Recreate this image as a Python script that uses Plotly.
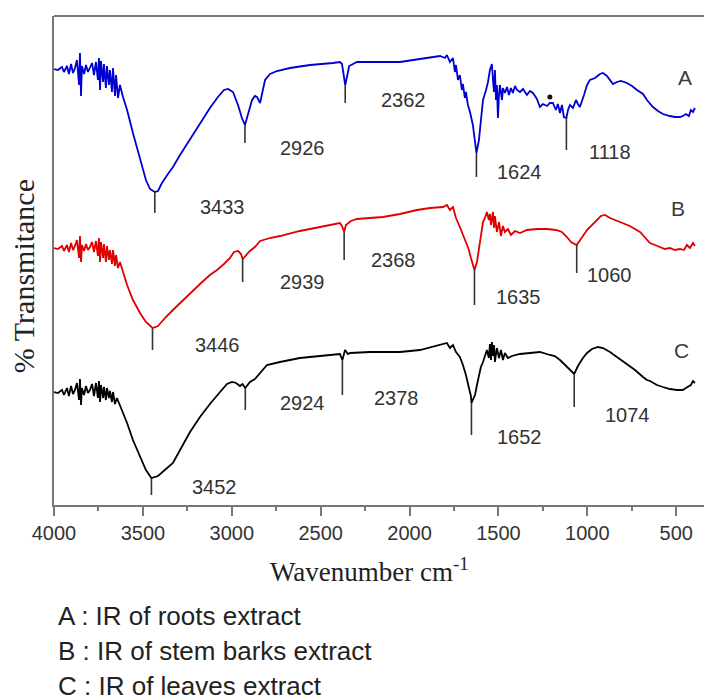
import plotly.graph_objects as go

# ---------------- data (wavenumber in cm-1, transmittance in arbitrary offset units) -------------
wn_A = [4000, 3978, 3955, 3944, 3927, 3916, 3904, 3893, 3882, 3871, 3859, 3854, 3848, 3843, 3831,
        3820, 3809, 3798, 3786, 3775, 3764, 3753, 3747, 3741, 3736, 3724, 3719, 3708, 3702, 3691,
        3685, 3674, 3668, 3657, 3651, 3640, 3629, 3612, 3589, 3556, 3516, 3483, 3460, 3433, 3415,
        3393, 3359, 3331, 3291, 3235, 3179, 3123, 3078, 3044, 3021, 2993, 2965, 2943, 2926, 2909,
        2886, 2870, 2858, 2841, 2830, 2813, 2785, 2746, 2673, 2560, 2431, 2392, 2380, 2370, 2362,
        2351, 2340, 2296, 2167, 2054, 1942, 1869, 1829, 1801, 1790, 1773, 1756, 1745, 1739, 1728,
        1717, 1706, 1700, 1689, 1683, 1672, 1660, 1644, 1632, 1624, 1610, 1599, 1587, 1570, 1559,
        1548, 1537, 1531, 1525, 1520, 1514, 1509, 1503, 1497, 1492, 1480, 1475, 1464, 1452, 1441,
        1430, 1419, 1407, 1396, 1379, 1362, 1340, 1323, 1306, 1284, 1267, 1250, 1227, 1211, 1194,
        1177, 1166, 1154, 1143, 1132, 1118, 1109, 1098, 1081, 1064, 1053, 1042, 1019, 1002, 986,
        957, 929, 912, 890, 873, 856, 834, 811, 777, 749, 721, 687, 665, 648, 631, 603, 575, 536,
        508, 479, 463, 446, 429, 418, 406, 395]
T_A = [436, 435, 438, 433, 439, 431, 441, 432, 437, 445, 420, 452, 409, 439, 431,
       440, 433, 437, 442, 430, 443, 425, 447, 415, 444, 423, 441, 417, 439, 420,
       435, 413, 437, 409, 430, 407, 420, 408, 395, 372, 345, 325, 316, 313, 314,
       322, 331, 338, 350, 366, 382, 397, 408, 415, 416, 413, 400, 387, 380, 390,
       405, 409, 408, 402, 410, 425, 431, 434, 437, 440, 442, 443, 441, 429, 420,
       429, 439, 443, 443, 443, 446, 448, 449, 447, 450, 443, 447, 433, 440, 425,
       430, 415, 421, 407, 413, 400, 393, 380, 365, 352, 365, 387, 405, 415, 423,
       435, 441, 425, 413, 435, 405, 420, 387, 410, 420, 405, 417, 412, 418, 410,
       417, 412, 419, 415, 413, 416, 410, 414, 412, 406, 398, 401, 399, 402, 402,
       395, 401, 392, 400, 388, 387, 395, 400, 397, 405, 401, 398, 410, 420, 425,
       427, 431, 432, 429, 425, 421, 423, 424, 422, 419, 415, 411, 405, 401, 398, 394, 391, 389,
       388, 388, 389, 391, 389, 395, 393, 397]

wn_B = [4000, 3978, 3955, 3944, 3927, 3916, 3904, 3893, 3882, 3871, 3859, 3854, 3848, 3843, 3831,
        3820, 3809, 3798, 3786, 3775, 3764, 3753, 3747, 3741, 3736, 3724, 3719, 3708, 3702, 3691,
        3685, 3674, 3668, 3657, 3651, 3640, 3629, 3612, 3589, 3556, 3516, 3483, 3460, 3446, 3415,
        3376, 3331, 3291, 3235, 3179, 3123, 3083, 3044, 3010, 2988, 2965, 2948, 2939, 2898, 2870,
        2841, 2785, 2729, 2617, 2504, 2431, 2392, 2380, 2368, 2358, 2330, 2296, 2150, 2054, 1958,
        1885, 1812, 1790, 1773, 1756, 1739, 1717, 1700, 1683, 1666, 1655, 1644, 1635, 1621, 1610,
        1599, 1587, 1576, 1565, 1554, 1548, 1542, 1531, 1525, 1520, 1509, 1497, 1486, 1475, 1464,
        1447, 1430, 1407, 1379, 1340, 1284, 1227, 1177, 1143, 1115, 1092, 1060, 1047, 1025, 1002,
        974, 946, 924, 901, 873, 817, 761, 704, 676, 648, 620, 592, 564, 536, 508, 479, 457, 440,
        423, 406, 395]
T_B = [257, 256, 259, 254, 260, 253, 262, 255, 259, 265, 247, 269, 243, 260, 254,
       261, 255, 258, 263, 253, 264, 249, 267, 243, 263, 247, 261, 243, 259, 245,
       255, 241, 255, 239, 250, 237, 243, 233, 220, 205, 192, 183, 179, 177, 179,
       187, 195, 202, 212, 221, 230, 235, 241, 247, 253, 254, 251, 246, 254, 258,
       264, 267, 269, 274, 278, 281, 282, 279, 273, 280, 284, 286, 288, 291, 295,
       297, 298, 300, 295, 298, 287, 278, 270, 263, 255, 247, 240, 235, 243, 257,
       273, 283, 287, 293, 285, 291, 280, 293, 277, 289, 273, 283, 269, 279, 273,
       276, 270, 274, 272, 275, 276, 276, 275, 273, 268, 263, 260, 263, 269, 275,
       280, 285, 289, 290, 287, 283, 279, 273, 267, 262, 260, 258, 256, 257, 255, 256, 255, 260,
       257, 262, 259]

wn_C = [4000, 3978, 3955, 3944, 3927, 3916, 3904, 3893, 3882, 3871, 3859, 3854, 3848, 3843, 3831,
        3820, 3809, 3798, 3786, 3775, 3764, 3753, 3747, 3741, 3736, 3724, 3719, 3708, 3702, 3691,
        3685, 3674, 3668, 3657, 3646, 3629, 3612, 3589, 3556, 3516, 3483, 3460, 3452, 3415, 3376,
        3331, 3291, 3235, 3179, 3123, 3066, 3027, 2999, 2976, 2954, 2940, 2924, 2905, 2898, 2870,
        2841, 2802, 2729, 2617, 2504, 2420, 2392, 2378, 2363, 2347, 2335, 2223, 2054, 1942, 1829,
        1790, 1773, 1756, 1739, 1717, 1700, 1683, 1666, 1655, 1652, 1632, 1621, 1610, 1599, 1587,
        1576, 1565, 1554, 1548, 1542, 1537, 1531, 1525, 1520, 1509, 1497, 1486, 1475, 1464, 1447,
        1424, 1379, 1323, 1267, 1211, 1183, 1154, 1126, 1098, 1074, 1053, 1025, 1002, 974, 941,
        912, 873, 834, 789, 732, 687, 665, 648, 609, 575, 536, 496, 463, 446, 429, 418, 406, 395]
T_C = [113, 112, 115, 110, 117, 109, 119, 111, 115, 122, 105, 126, 100, 117, 110,
       119, 112, 115, 121, 109, 122, 107, 124, 103, 120, 107, 118, 105, 117, 107,
       114, 103, 113, 101, 107, 100, 93, 82, 65, 48, 35, 29, 27, 29, 35,
       42, 55, 73, 88, 101, 113, 121, 123, 122, 119, 121, 117, 122, 123, 126,
       132, 140, 143, 147, 149, 150, 151, 145, 155, 151, 152, 153, 153, 155, 160,
       162, 157, 160, 153, 148, 140, 130, 117, 109, 102, 110, 120, 130, 138, 143,
       148, 155, 147, 161, 145, 163, 149, 160, 143, 157, 147, 155, 145, 152, 147,
       149, 151, 152, 153, 150, 149, 145, 140, 135, 131, 139, 147, 152, 156, 158,
       157, 153, 148, 143, 135, 128, 125, 124, 120, 118, 116, 115, 115, 117, 119, 120, 124, 122]

# peak markers: wavenumber, top (at curve), bottom of the marker line, label position
peak_wn = [3433, 2926, 2362, 1624, 1118,
           3446, 2939, 2368, 1635, 1060,
           3452, 2924, 2378, 1652, 1074]
peak_top = [313, 380, 420, 352, 387,
            177, 246, 273, 235, 260,
            27, 117, 145, 102, 131]
peak_bot = [292, 362, 402, 328, 355,
            155, 223, 245, 200, 232,
            10, 95, 110, 70, 98]
label_text = ["3433", "2926", "2362", "1624", "1118",
              "3446", "2939", "2368", "1635", "1060",
              "3452", "2924", "2378", "1652", "1074"]
label_wn = [3050, 2605, 2037, 1379, 873,
            3083, 2605, 2093, 1390, 873,
            3095, 2600, 2071, 1379, 777]
label_T = [298, 357, 405, 333, 353,
           160, 223, 245, 208, 230,
           18, 102, 107, 68, 90]

series_names = ["A", "B", "C"]
series_label_wn = [451, 491, 468]
series_label_T = [428, 297, 155]
series_colors = ["#0000d0", "#e00000", "#000000"]

dot_wn = [1211]
dot_T = [408]

legend_lines = ["A : IR of roots extract", "B : IR of stem barks extract", "C : IR of leaves extract"]

x_tick_vals = [4000, 3500, 3000, 2500, 2000, 1500, 1000, 500]

# ---------------- figure ----------------
fig = go.Figure()
for name, xs, ys, col in zip(series_names, [wn_A, wn_B, wn_C], [T_A, T_B, T_C], series_colors):
    fig.add_trace(go.Scatter(x=xs, y=ys, mode="lines", name=name,
                             line=dict(color=col, width=1.8), showlegend=False))

mx, my = [], []
for w, t, b in zip(peak_wn, peak_top, peak_bot):
    mx += [w, w, None]
    my += [t, b, None]
fig.add_trace(go.Scatter(x=mx, y=my, mode="lines", line=dict(color="#333333", width=1.6),
                         showlegend=False, hoverinfo="skip"))
fig.add_trace(go.Scatter(x=dot_wn, y=dot_T, mode="markers", marker=dict(color="#111", size=5),
                         showlegend=False, hoverinfo="skip"))

annotations = []
for txt, w, t in zip(label_text, label_wn, label_T):
    annotations.append(dict(x=w, y=t, text=txt, showarrow=False, xanchor="center", yanchor="middle",
                            font=dict(family="Liberation Sans, Arial", size=20, color="#333333")))
for txt, w, t in zip(series_names, series_label_wn, series_label_T):
    annotations.append(dict(x=w, y=t, text=txt, showarrow=False, xanchor="center", yanchor="middle",
                            font=dict(family="Liberation Sans, Arial", size=21, color="#3a3a3a")))

annotations.append(dict(xref="paper", yref="paper", x=0, y=0.468, xshift=-31, text="% Transmitance",
                        textangle=-90, showarrow=False, xanchor="center", yanchor="middle",
                        font=dict(family="Liberation Serif, Times New Roman", size=30, color="#222")))
annotations.append(dict(xref="paper", yref="paper", x=0.48, y=0, yshift=-65,
                        text="Wavenumber cm<sup>-1</sup>", showarrow=False,
                        xanchor="center", yanchor="middle",
                        font=dict(family="Liberation Serif, Times New Roman", size=27, color="#222")))
for i, line in enumerate(legend_lines):
    annotations.append(dict(xref="paper", yref="paper", x=0, y=0, xshift=2, yshift=-111 - 35 * i,
                            text=line, showarrow=False, xanchor="left", yanchor="middle",
                            font=dict(family="Liberation Sans, Arial", size=26, color="#222")))

# the page adds an 8px body margin, so the plot margins are reduced by 8px to compensate
fig.update_layout(
    width=712, height=700,
    margin=dict(l=46, r=8, t=8, b=203),
    paper_bgcolor="white", plot_bgcolor="white",
    annotations=annotations,
    shapes=[dict(type="line", xref="paper", yref="paper", x0=0, x1=1, y0=1, y1=1,
                 line=dict(color="#777777", width=2))],
)
fig.update_xaxes(range=[4000, 299], tickvals=x_tick_vals, ticktext=[str(v) for v in x_tick_vals],
                 showline=True, linecolor="#777777", linewidth=2, showgrid=False, zeroline=False,
                 ticks="outside", ticklen=9, tickwidth=2, tickcolor="#777777",
                 minor=dict(dtick=250, tick0=0, ticks="outside", ticklen=4, tickwidth=2,
                            tickcolor="#777777", showgrid=False),
                 tickfont=dict(family="Liberation Sans, Arial", size=20, color="#333333"))
fig.update_yaxes(range=[0, 489], showline=True, linecolor="#777777", linewidth=2, showgrid=False,
                 zeroline=False, showticklabels=False, ticks="")

fig.write_html("out.html")
